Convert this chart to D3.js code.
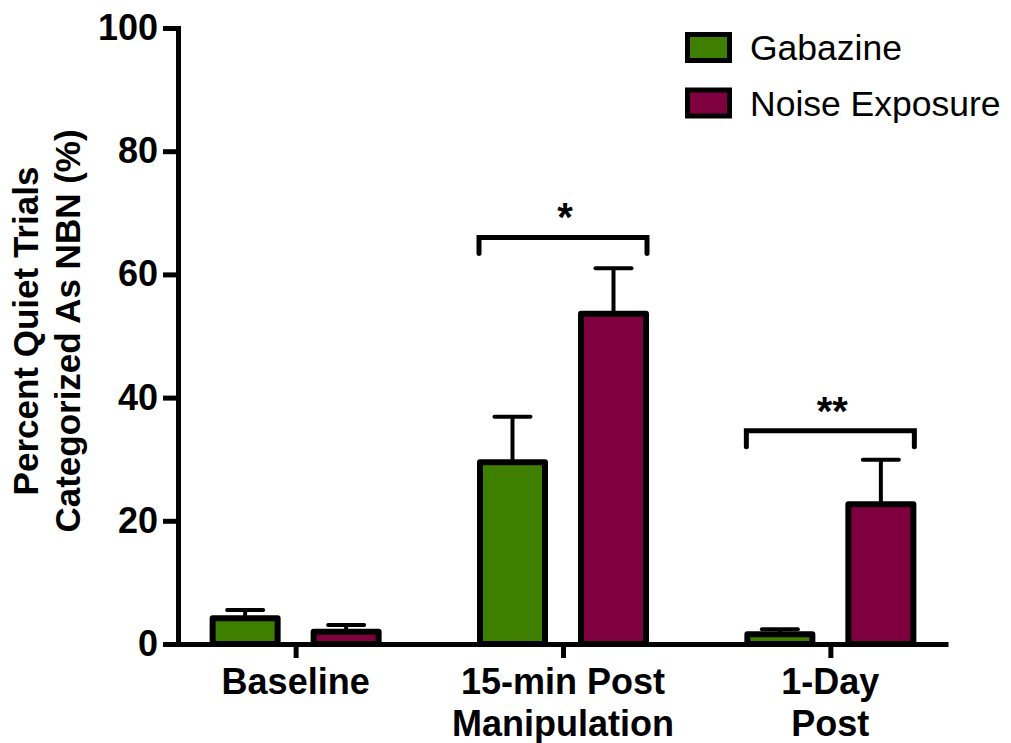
<!DOCTYPE html>
<html>
<head>
<meta charset="utf-8">
<script src="https://cdn.jsdelivr.net/npm/d3@7"></script>
<style>
  html, body { margin: 0; padding: 0; background: #fff; }
  svg { display: block; }
  text { font-family: "Liberation Sans", Arial, Helvetica, sans-serif; fill: #000; }
</style>
</head>
<body>
<svg id="chart" width="1011" height="743"></svg>
<script>
// ---- data ----
const categories = ["Baseline", "15-min Post Manipulation", "1-Day Post"];
const categoryLines = [["Baseline"], ["15-min Post", "Manipulation"], ["1-Day", "Post"]];
const seriesNames = ["Gabazine", "Noise Exposure"];
const seriesColors = ["#3f7f00", "#7f003f"];
const gabazineMean = [4.2, 29.5, 1.6];
const gabazineErr = [1.3, 7.4, 0.8];
const noiseMean = [2.0, 53.6, 22.7];
const noiseErr = [1.1, 7.4, 7.2];
const yTicks = [0, 20, 40, 60, 80, 100];
const sigGroups = [1, 2];
const sigLevels = [66.0, 34.6];
const sigLabels = ["*", "**"];

const means = [gabazineMean, noiseMean];
const errs = [gabazineErr, noiseErr];

const svg = d3.select("#chart");

const x = d3.scalePoint().domain(categories).range([178, 948]).padding(0.44);
const y = d3.scaleLinear().domain([0, 100]).range([644, 28]);
const offset = d3.scalePoint().domain(seriesNames).range([-50.5, 50.5]);
const barW = 65;

// bars
const bars = [];
seriesNames.forEach((s, si) => {
  categories.forEach((c, ci) => {
    bars.push({s, si, c, ci, v: means[si][ci], e: errs[si][ci]});
  });
});

const g = svg.append("g");

// error bars (upward)
g.selectAll(".err").data(bars).enter().append("line")
  .attr("x1", d => x(d.c) + offset(d.s))
  .attr("x2", d => x(d.c) + offset(d.s))
  .attr("y1", d => y(d.v))
  .attr("y2", d => y(d.v + d.e))
  .attr("stroke", "#000").attr("stroke-width", 4);
g.selectAll(".cap").data(bars).enter().append("line")
  .attr("x1", d => x(d.c) + offset(d.s) - 18)
  .attr("x2", d => x(d.c) + offset(d.s) + 18)
  .attr("y1", d => y(d.v + d.e))
  .attr("y2", d => y(d.v + d.e))
  .attr("stroke", "#000").attr("stroke-width", 4).attr("stroke-linecap", "round");

g.selectAll(".bar").data(bars).enter().append("rect")
  .attr("x", d => x(d.c) + offset(d.s) - barW / 2)
  .attr("y", d => y(d.v))
  .attr("width", barW)
  .attr("height", d => y(0) - y(d.v))
  .attr("fill", d => seriesColors[d.si])
  .attr("stroke", "#000").attr("stroke-width", 6).attr("stroke-linejoin", "round");

// axes
const yAxis = d3.axisLeft(y).tickValues(yTicks).tickSize(15).tickSizeOuter(0).tickPadding(5);
const ya = svg.append("g").attr("transform", "translate(178,0)").call(yAxis);
ya.select(".domain").attr("stroke-width", 5).attr("stroke-linecap", "square");
ya.selectAll(".tick line").attr("stroke-width", 5);
ya.selectAll(".tick text")
  .style("font-family", '"Liberation Sans", Arial, sans-serif')
  .style("font-weight", "bold").style("font-size", "36px");

const xAxis = d3.axisBottom(x).tickSize(14).tickSizeOuter(0).tickFormat("");
const xa = svg.append("g").attr("transform", "translate(0,644)").call(xAxis);
xa.select(".domain").attr("stroke-width", 5);
xa.selectAll(".tick line").attr("stroke-width", 5);

// x category labels (multi-line)
const xl = svg.append("g");
categories.forEach((c, ci) => {
  const t = xl.append("text")
    .attr("x", x(c)).attr("y", 694)
    .attr("text-anchor", "middle")
    .style("font-weight", "bold").style("font-size", "36px");
  categoryLines[ci].forEach((ln, li) => {
    t.append("tspan").attr("x", x(c)).attr("dy", li === 0 ? 0 : 42).text(ln);
  });
});

// y title
const yt = svg.append("text")
  .attr("transform", "translate(38,331) rotate(-90)")
  .attr("text-anchor", "middle")
  .style("font-weight", "bold").style("font-size", "35px");
yt.append("tspan").attr("x", 0).attr("dy", 0).text("Percent Quiet Trials");
yt.append("tspan").attr("x", 0).attr("dy", 42).text("Categorized As NBN (%)");

// significance brackets
sigGroups.forEach((gi, k) => {
  const c = categories[gi];
  const x0 = x(c) + offset(seriesNames[0]) - barW / 2 - 1;
  const x1 = x(c) + offset(seriesNames[1]) + barW / 2 + 1;
  const yb = y(sigLevels[k]);
  svg.append("path")
    .attr("d", `M${x0},${yb + 16}V${yb}H${x1}V${yb + 16}`)
    .attr("fill", "none").attr("stroke", "#000").attr("stroke-width", 5)
    .attr("stroke-linecap", "round").attr("stroke-linejoin", "miter");
  svg.append("text")
    .attr("x", x(c) + 2).attr("y", yb - 6)
    .attr("text-anchor", "middle")
    .style("font-weight", "bold").style("font-size", "40px")
    .text(sigLabels[k]);
});

// legend
const lg = svg.append("g");
seriesNames.forEach((s, i) => {
  const cy = 47.5 + i * 55.5;
  lg.append("rect")
    .attr("x", 687.5).attr("y", cy - 13).attr("width", 42).attr("height", 26)
    .attr("fill", seriesColors[i]).attr("stroke", "#000").attr("stroke-width", 5);
  lg.append("text")
    .attr("x", 750).attr("y", cy + 12.5)
    .style("font-size", "35.5px")
    .text(s);
});
</script>
</body>
</html>
